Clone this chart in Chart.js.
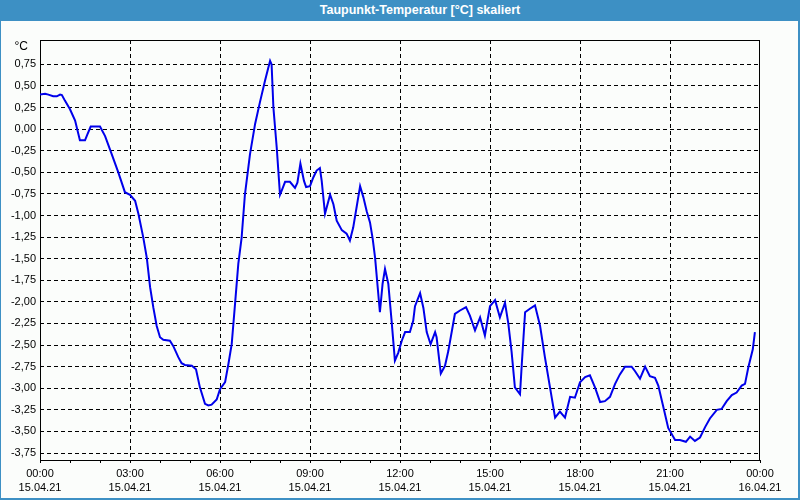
<!DOCTYPE html>
<html>
<head>
<meta charset="utf-8">
<script src="https://cdn.jsdelivr.net/npm/chart.js@4/dist/chart.umd.min.js"></script>
<style>
  body { margin: 0; background: #fff; }
  #wrap { position: relative; width: 800px; height: 500px; background: #fbfdfb; overflow: hidden; }
  #dew-chart { position: absolute; left: 0; top: 0; }
  #titlebar {
    position: absolute; left: 0; top: 0; width: 800px; height: 21px;
    background: #3d90c4; color: #fff;
    font: bold 12.5px "Liberation Sans", Arial, sans-serif;
    line-height: 21px; text-align: center; box-sizing: border-box; padding-left: 40px;
  }
  #frame {
    position: absolute; left: 0; top: 0; width: 800px; height: 500px; box-sizing: border-box;
    border-left: 1px solid #3d90c4; border-right: 2px solid #3d90c4; border-bottom: 2px solid #3d90c4;
    pointer-events: none;
  }
</style>
</head>
<body>
<div id="wrap">
  <canvas id="dew-chart" width="800" height="500"></canvas>
  <div id="titlebar">Taupunkt-Temperatur [°C] skaliert</div>
  <div id="frame"></div>
</div>
<script>
// hours since 15.04.21 00:00
var hours = [0, 0.17, 0.28, 0.44, 0.56, 0.67, 0.73, 0.83, 1.0, 1.17, 1.33, 1.5, 1.58, 1.69, 2.0, 2.17, 2.39, 2.61, 2.83,
  3.0, 3.17, 3.28, 3.44, 3.56, 3.67, 3.78, 3.89, 4.0, 4.11, 4.33, 4.44, 4.61, 4.72, 4.83, 5.06, 5.2, 5.33, 5.5, 5.61, 5.72, 5.89,
  6.0, 6.17, 6.28, 6.39, 6.5, 6.61, 6.72, 6.83, 7.0, 7.17, 7.33, 7.5, 7.61, 7.67, 7.72, 7.78, 7.89,
  8.0, 8.06, 8.17, 8.33, 8.5, 8.58, 8.68, 8.8, 8.87, 9.0, 9.11, 9.22, 9.33, 9.39, 9.5, 9.67, 9.78, 9.89,
  10.06, 10.22, 10.33, 10.44, 10.56, 10.67, 10.78, 10.89, 11.0, 11.09, 11.17, 11.33, 11.42, 11.5, 11.61, 11.72, 11.83, 11.94,
  12.06, 12.17, 12.33, 12.44, 12.5, 12.67, 12.78, 12.89, 13.02, 13.17, 13.22, 13.36, 13.5, 13.61, 13.83,
  14.0, 14.2, 14.33, 14.5, 14.67, 14.83, 15.0, 15.17, 15.33, 15.5, 15.61, 15.72, 15.83,
  16.0, 16.06, 16.17, 16.33, 16.5, 16.67, 16.83, 17.0, 17.17, 17.33, 17.5, 17.67, 17.83,
  18.0, 18.17, 18.33, 18.5, 18.67, 18.83, 19.0, 19.17, 19.33, 19.5, 19.72, 19.83,
  20.0, 20.17, 20.33, 20.5, 20.61, 20.78, 20.94, 21.17, 21.33, 21.53, 21.67, 21.83,
  22.0, 22.17, 22.33, 22.56, 22.72, 22.89, 23.06, 23.22, 23.39, 23.5, 23.61, 23.76, 23.83];

// dew point in °C
var dewPoint = [0.40, 0.41, 0.40, 0.38, 0.38, 0.40, 0.395, 0.33, 0.23, 0.10, -0.13, -0.13, -0.06, 0.03, 0.03, -0.08, -0.29, -0.50, -0.73,
  -0.76, -0.83, -0.98, -1.25, -1.49, -1.83, -2.07, -2.28, -2.41, -2.44, -2.45, -2.51, -2.64, -2.71, -2.73, -2.74, -2.78, -2.99, -3.18, -3.20, -3.19, -3.13,
  -3.01, -2.93, -2.72, -2.49, -2.03, -1.56, -1.26, -0.76, -0.29, 0.06, 0.31, 0.56, 0.71, 0.79, 0.75, 0.25, -0.21,
  -0.76, -0.71, -0.61, -0.61, -0.68, -0.62, -0.40, -0.60, -0.67, -0.66, -0.56, -0.48, -0.45, -0.60, -0.98, -0.76, -0.87, -1.06,
  -1.17, -1.21, -1.29, -1.14, -0.89, -0.66, -0.79, -0.95, -1.08, -1.27, -1.49, -2.12, -1.79, -1.62, -1.79, -2.22, -2.68, -2.59,
  -2.45, -2.35, -2.35, -2.22, -2.05, -1.90, -2.07, -2.35, -2.49, -2.35, -2.41, -2.83, -2.74, -2.57, -2.14,
  -2.10, -2.06, -2.16, -2.33, -2.18, -2.39, -2.05, -1.98, -2.18, -2.01, -2.25, -2.58, -2.99,
  -3.07, -2.72, -2.12, -2.08, -2.04, -2.28, -2.64, -2.99, -3.34, -3.27, -3.34, -3.10, -3.11,
  -2.93, -2.87, -2.85, -2.99, -3.16, -3.15, -3.10, -2.95, -2.84, -2.75, -2.75, -2.80,
  -2.89, -2.75, -2.86, -2.88, -2.97, -3.22, -3.46, -3.60, -3.60, -3.62, -3.56, -3.61,
  -3.57, -3.45, -3.35, -3.25, -3.24, -3.15, -3.08, -3.05, -2.97, -2.95, -2.76, -2.55, -2.35];

var yTicks = [0.75, 0.5, 0.25, 0, -0.25, -0.5, -0.75, -1, -1.25, -1.5, -1.75, -2, -2.25, -2.5, -2.75, -3, -3.25, -3.5, -3.75];
var timeLabels = ['00:00', '03:00', '06:00', '09:00', '12:00', '15:00', '18:00', '21:00', '00:00'];
var dateLabels = ['15.04.21', '15.04.21', '15.04.21', '15.04.21', '15.04.21', '15.04.21', '15.04.21', '15.04.21', '16.04.21'];
var unitLabel = '°C';

var points = hours.map(function (h, i) { return { x: h, y: dewPoint[i] }; });

// black box round the plot area and the unit label above the y axis
var frameBox = {
    id: 'frameBox',
    beforeDatasetsDraw: function (chart) {
        var a = chart.chartArea, c = chart.ctx;
        c.save();
        c.strokeStyle = '#000';
        c.lineWidth = 1;
        c.strokeRect(a.left + 0.5, a.top + 0.5, a.right - a.left - 1, a.bottom - a.top);
        c.fillStyle = '#000';
        c.font = '12px "Liberation Sans", Arial, sans-serif';
        c.textAlign = 'right';
        c.textBaseline = 'middle';
        c.fillText(unitLabel, 28, 47);
        c.restore();
    }
};

var ctx = document.getElementById('dew-chart').getContext('2d');
var chart = new Chart(ctx, {
    type: 'line',
    data: {
        datasets: [{
            data: points,
            borderColor: 'rgb(0, 0, 235)',
            borderWidth: 2,
            pointRadius: 0,
            tension: 0,
            fill: false,
        }]
    },
    options: {
        responsive: false,
        animation: false,
        layout: { padding: { left: 0, right: 40, top: 40, bottom: 0 } },
        plugins: {
            legend: { display: false },
            title: { display: false },
            tooltip: { enabled: false },
        },
        scales: {
            x: {
                type: 'linear',
                min: 0,
                max: 24,
                afterFit: function (scale) { scale.height = 40; },
                ticks: {
                    stepSize: 1,
                    autoSkip: false,
                    maxRotation: 0,
                    padding: 4,
                    color: '#000',
                    font: { family: '"Liberation Sans", Arial, sans-serif', size: 11, lineHeight: 1.27 },
                    callback: function (value) {
                        if (value % 3 !== 0) return '';
                        var i = value / 3;
                        return [timeLabels[i], dateLabels[i]];
                    }
                },
                grid: {
                    color: function (c) {
                        var v = c.tick ? c.tick.value : 0;
                        return (v % 3 === 0 && v > 0 && v < 24) ? '#000' : 'rgba(0,0,0,0)';
                    },
                    tickColor: '#000',
                    tickLength: 3,
                },
                border: { display: false, dash: [4, 3] },
            },
            y: {
                min: -3.831,
                max: 1.032,
                afterFit: function (scale) { scale.width = 40; },
                afterBuildTicks: function (axis) {
                    axis.ticks = yTicks.map(function (v) { return { value: v }; });
                },
                ticks: {
                    padding: 4,
                    color: '#000',
                    font: { family: '"Liberation Sans", Arial, sans-serif', size: 11 },
                    callback: function (value) { return value.toFixed(2).replace('.', ','); }
                },
                grid: {
                    color: '#000',
                    drawTicks: false,
                },
                border: { display: false, dash: [4, 3] },
            }
        }
    },
    plugins: [frameBox]
});
</script>
</body>
</html>
